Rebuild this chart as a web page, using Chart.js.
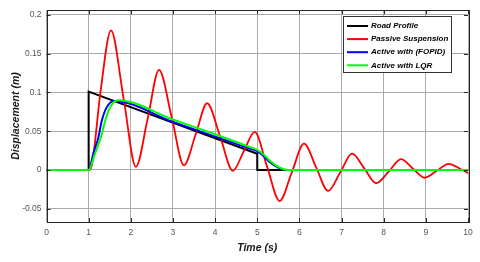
<!DOCTYPE html>
<html>
<head>
<meta charset="utf-8">
<script src="https://cdn.jsdelivr.net/npm/chart.js@4.4.1/dist/chart.umd.min.js"></script>
<style>
  html, body { margin: 0; padding: 0; background: #fff; }
  #wrap { width: 480px; height: 262px; }
</style>
</head>
<body>
<div id="wrap"><canvas id="chart" width="480" height="262"></canvas></div>
<script>
// tick labels
const xTicks = [0, 1, 2, 3, 4, 5, 6, 7, 8, 9, 10];
const yTicks = [-0.05, 0, 0.05, 0.1, 0.15, 0.2];

// road profile (step up at 1 s, ramp down, step off at 5 s)
const roadT = [0, 1, 1, 5, 5, 10];
const roadY = [0, 0, 0.101, 0.021, 0, 0];

// passive suspension response
const passiveT = [0, 1, 1.07, 1.28, 1.53, 1.83, 2.12, 2.40, 2.67, 2.97, 3.26, 3.54, 3.81, 4.12, 4.42, 4.68, 4.94,
  5.23, 5.53, 5.82, 6.11, 6.40, 6.68, 6.97, 7.25, 7.54, 7.82, 8.12, 8.41, 8.69, 8.97, 9.26, 9.54, 9.80, 10];
const passiveY = [0, 0, 0.005, 0.100, 0.180, 0.092, 0.004, 0.066, 0.129, 0.068, 0.006, 0.046, 0.086, 0.043, -0.001, 0.024, 0.049,
  0.005, -0.040, -0.003, 0.034, 0.003, -0.027, -0.003, 0.021, 0.002, -0.017, -0.002, 0.014, 0.002, -0.010, -0.001, 0.008, 0.002, -0.004];

// active with FOPID
const fopidT = [0, 1, 1.11, 1.23, 1.31, 1.42, 1.60, 3.0, 4.0, 4.8, 5.0, 5.15, 5.3, 5.5, 5.68, 10];
const fopidY = [0, 0, 0.021, 0.042, 0.063, 0.080, 0.089, 0.062, 0.043, 0.028, 0.024, 0.018, 0.010, 0.003, 0, 0];

// active with LQR
const lqrT = [0, 1, 1.15, 1.29, 1.39, 1.50, 1.70, 3.0, 4.0, 4.8, 5.0, 5.15, 5.3, 5.5, 5.73, 10];
const lqrY = [0, 0, 0.021, 0.042, 0.063, 0.080, 0.090, 0.065, 0.046, 0.030, 0.026, 0.020, 0.012, 0.004, 0, 0];

const pts = (t, y) => t.map((v, i) => ({ x: v, y: y[i] }));
const FONT = "'Liberation Sans', Arial, sans-serif";

// box + inward tick marks like the original figure
const framePlugin = {
  id: 'frame',
  afterDatasetsDraw(chart) {
    const { ctx, chartArea: a, scales } = chart;
    ctx.save();
    ctx.strokeStyle = '#262626';
    ctx.lineWidth = 1;
    ctx.beginPath();
    xTicks.forEach(v => {
      const px = Math.round(scales.x.getPixelForValue(v)) + 0.5;
      ctx.moveTo(px, a.bottom); ctx.lineTo(px, a.bottom - 4);
      ctx.moveTo(px, a.top); ctx.lineTo(px, a.top + 4);
    });
    yTicks.forEach(v => {
      const py = Math.round(scales.y.getPixelForValue(v)) + 0.5;
      ctx.moveTo(a.left, py); ctx.lineTo(a.left + 4, py);
      ctx.moveTo(a.right, py); ctx.lineTo(a.right - 4, py);
    });
    ctx.stroke();
    ctx.strokeRect(Math.round(a.left) + 0.5, Math.round(a.top) + 0.5,
      Math.round(a.right - a.left), Math.round(a.bottom - a.top));
    ctx.restore();
  }
};

// legend box inside the plot, upper right
const legendPlugin = {
  id: 'boxLegend',
  afterDraw(chart) {
    const { ctx } = chart;
    const x0 = 343, y0 = 16, w = 108, h = 56;
    ctx.save();
    ctx.fillStyle = '#fff';
    ctx.fillRect(x0, y0, w, h);
    ctx.strokeStyle = '#333';
    ctx.lineWidth = 1;
    ctx.strokeRect(x0 + 0.5, y0 + 0.5, w, h);
    ctx.font = 'italic bold 8px ' + FONT;
    ctx.textBaseline = 'middle';
    ctx.fillStyle = '#000';
    chart.data.datasets.forEach((ds, i) => {
      const y = y0 + 10 + i * 13.1;
      ctx.strokeStyle = ds.borderColor;
      ctx.lineWidth = 2;
      ctx.beginPath();
      ctx.moveTo(x0 + 4, y); ctx.lineTo(x0 + 25, y);
      ctx.stroke();
      ctx.fillText(ds.label, x0 + 28, y);
    });
    ctx.restore();
  }
};

new Chart(document.getElementById('chart'), {
  type: 'line',
  data: {
    datasets: [
      { label: 'Road Profile', data: pts(roadT, roadY), borderColor: '#000000', borderWidth: 2, tension: 0, order: 4 },
      { label: 'Passive Suspension', data: pts(passiveT, passiveY), borderColor: '#ff0000', borderWidth: 1.8, cubicInterpolationMode: 'monotone', order: 3 },
      { label: 'Active with (FOPID)', data: pts(fopidT, fopidY), borderColor: '#0000ff', borderWidth: 2, cubicInterpolationMode: 'monotone', order: 2 },
      { label: 'Active with LQR', data: pts(lqrT, lqrY), borderColor: '#00ff00', borderWidth: 2, cubicInterpolationMode: 'monotone', order: 1 }
    ]
  },
  options: {
    responsive: false,
    animation: false,
    events: [],
    layout: { padding: { top: 8, right: 12, left: 0, bottom: 0 } },
    elements: { point: { radius: 0 } },
    plugins: { legend: { display: false }, tooltip: { enabled: false } },
    scales: {
      x: {
        type: 'linear', min: 0, max: 10,
        afterFit(s) { s.height = 40; },
        afterBuildTicks(s) { s.ticks = xTicks.map(v => ({ value: v })); },
        grid: { color: '#ababab', drawTicks: false },
        border: { display: false },
        ticks: { padding: 6, color: '#555', font: { family: FONT, size: 8.5 }, maxRotation: 0, callback: v => String(v) },
        title: { display: true, text: 'Time (s)', color: '#1a1a1a', padding: { top: 0, bottom: 8 },
          font: { family: FONT, size: 10.5, weight: 'bold', style: 'italic' } }
      },
      y: {
        type: 'linear', min: -0.067, max: 0.206,
        afterFit(s) { s.width = 46.5; },
        afterBuildTicks(s) { s.ticks = yTicks.map(v => ({ value: v })); },
        grid: { color: '#ababab', drawTicks: false },
        border: { display: false },
        ticks: { padding: 5, color: '#555', font: { family: FONT, size: 8.5 }, callback: v => String(v) },
        title: { display: true, text: 'Displacement (m)', color: '#1a1a1a', padding: { top: 10, bottom: 0 },
          font: { family: FONT, size: 10.5, weight: 'bold', style: 'italic' } }
      }
    }
  },
  plugins: [framePlugin, legendPlugin]
});
</script>
</body>
</html>
